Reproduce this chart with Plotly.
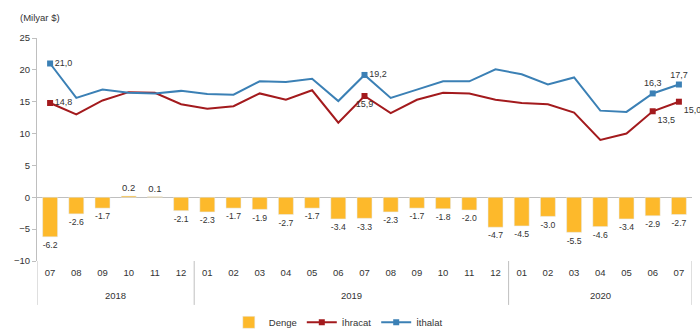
import plotly.graph_objects as go

months = ["07", "08", "09", "10", "11", "12",
          "01", "02", "03", "04", "05", "06", "07", "08", "09", "10", "11", "12",
          "01", "02", "03", "04", "05", "06", "07"]
years = ["2018"] * 6 + ["2019"] * 12 + ["2020"] * 7

denge = [-6.2, -2.6, -1.7, 0.2, 0.1, -2.1, -2.3, -1.7, -1.9, -2.7, -1.7, -3.4, -3.3,
         -2.3, -1.7, -1.8, -2.0, -4.7, -4.5, -3.0, -5.5, -4.6, -3.4, -2.9, -2.7]
ihracat = [14.8, 13.0, 15.2, 16.5, 16.4, 14.6, 13.9, 14.3, 16.3, 15.3, 16.8, 11.7, 15.9,
           13.2, 15.3, 16.4, 16.3, 15.3, 14.8, 14.6, 13.3, 9.0, 10.0, 13.5, 15.0]
ithalat = [21.0, 15.6, 16.9, 16.4, 16.3, 16.7, 16.2, 16.1, 18.2, 18.1, 18.6, 15.1, 19.2,
           15.6, 16.9, 18.2, 18.2, 20.1, 19.3, 17.7, 18.8, 13.6, 13.4, 16.3, 17.7]

labeled = [0, 12, 23, 24]
ihr_pos = {0: "middle right", 12: "bottom center", 23: "bottom right", 24: "bottom right"}
ith_pos = {0: "middle right", 12: "middle right", 23: "top center", 24: "top center"}

keys = [f"{y}-{m}" for y, m in zip(years, months)]

BAR = "#FDB92B"
RED = "#A31A1D"
BLUE = "#3B80B5"
AX = "#BFBFBF"
TXT = "#333333"
FONT = "Liberation Sans, Arial, sans-serif"
FS = 9.5
FSL = 9


def lbl(vals):
    return [f"{v:.1f}".replace(".", ",") if i in labeled else "" for i, v in enumerate(vals)]


def mcolors(vals, c):
    return [c if i in labeled else "rgba(0,0,0,0)" for i in range(len(vals))]


def pos(vals, d):
    return [d.get(i, "middle right") for i in range(len(vals))]


fig = go.Figure()
fig.add_trace(go.Bar(
    x=keys, y=denge, name="Denge", marker_color=BAR,
    text=[f"{v:.1f}" for v in denge], textposition="outside",
    textfont=dict(size=FS, color=TXT), cliponaxis=False,
))
fig.add_trace(go.Scatter(
    x=keys, y=ihracat, name="İhracat", mode="lines+markers+text",
    line=dict(color=RED, width=2),
    marker=dict(symbol="square", size=6, color=mcolors(ihracat, RED)),
    text=lbl(ihracat), textposition=pos(ihracat, ihr_pos),
    textfont=dict(size=FSL, color=TXT), cliponaxis=False,
))
fig.add_trace(go.Scatter(
    x=keys, y=ithalat, name="İthalat", mode="lines+markers+text",
    line=dict(color=BLUE, width=2),
    marker=dict(symbol="square", size=6, color=mcolors(ithalat, BLUE)),
    text=lbl(ithalat), textposition=pos(ithalat, ith_pos),
    textfont=dict(size=FSL, color=TXT), cliponaxis=False,
))

# year group labels and dividers derived from the years list
groups = []
for i, yv in enumerate(years):
    if not groups or groups[-1][0] != yv:
        groups.append([yv, i, i])
    else:
        groups[-1][2] = i

annotations = [dict(text="(Milyar $)", xref="paper", yref="paper", x=-0.029, y=1.094,
                    xanchor="left", yanchor="middle", showarrow=False,
                    font=dict(size=FS, color=TXT))]
shapes = []
for yv, s, e in groups:
    annotations.append(dict(text=yv, xref="x", yref="paper", x=(s + e) / 2, y=-0.154,
                            xanchor="center", yanchor="middle", showarrow=False,
                            font=dict(size=FS, color=TXT)))
bounds = [groups[0][1] - 0.5] + [e + 0.5 for _, _, e in groups]
for b in bounds:
    shapes.append(dict(type="line", xref="x", yref="paper", x0=b, x1=b, y0=0, y1=-0.197,
                       line=dict(color=AX, width=1)))

fig.update_layout(
    width=700, height=334,
    margin=dict(l=37, r=8, t=38, b=73, autoexpand=False),
    paper_bgcolor="white", plot_bgcolor="white",
    font=dict(family=FONT, size=FS, color=TXT),
    bargap=0.43,
    showlegend=True,
    legend=dict(orientation="h", x=0.46, xanchor="center", y=-0.275, yanchor="middle",
                font=dict(size=FS), itemsizing="trace", itemwidth=30, traceorder="normal"),
    annotations=annotations,
    shapes=shapes,
)
fig.update_yaxes(range=[-10, 25], dtick=5, showgrid=False, showline=True, linecolor=AX,
                 ticks="outside", ticklen=4, tickcolor=AX, zeroline=True, zerolinecolor=AX,
                 zerolinewidth=1, tickfont=dict(size=FS), automargin=False)
fig.update_xaxes(type="category", tickvals=keys, ticktext=months, showgrid=False,
                 showline=False, ticks="", tickfont=dict(size=FS), automargin=False,
                 ticklabelstandoff=4, range=[-0.5, len(keys) - 0.5])

fig.write_html("out.html")
